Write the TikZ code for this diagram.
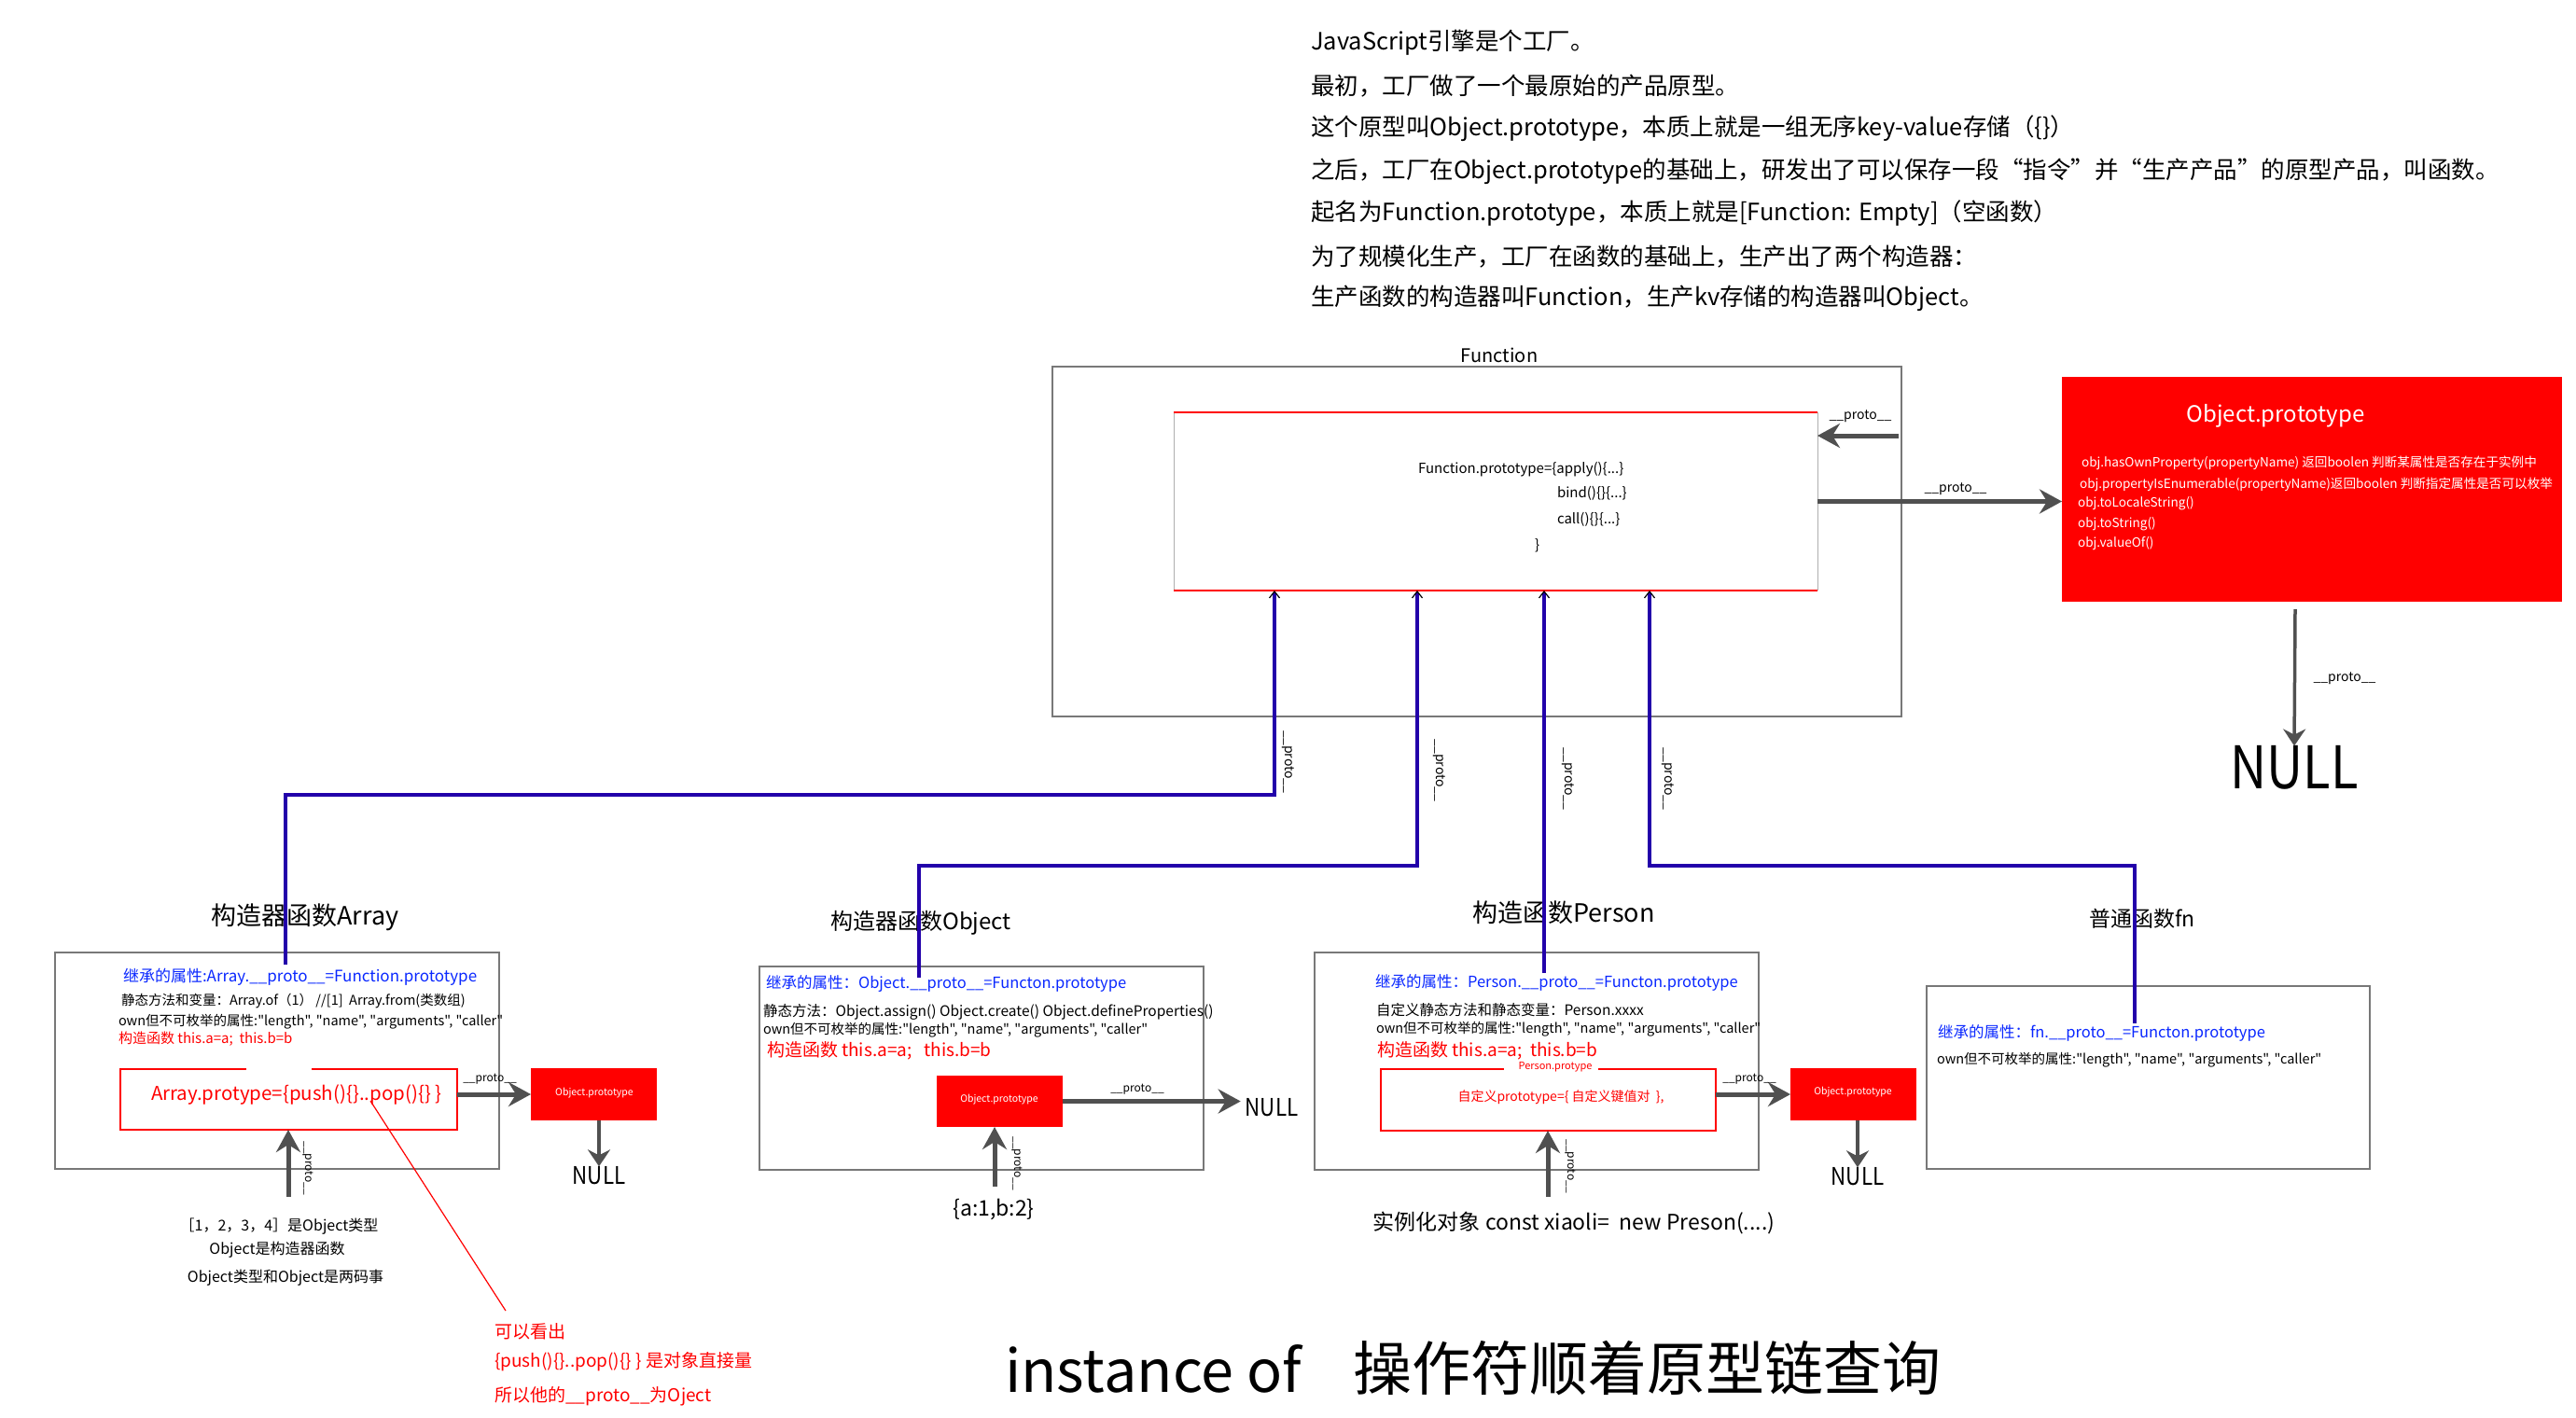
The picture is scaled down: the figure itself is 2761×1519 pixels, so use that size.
\documentclass[tikz,border=0pt]{standalone}
\usepackage{fontspec}
\setmainfont{Noto Sans CJK SC}[Ligatures=TeXOff]
\usetikzlibrary{arrows.meta}
\definecolor{agray}{RGB}{80,80,80}
\definecolor{bgray}{RGB}{120,120,120}
\definecolor{dblue}{RGB}{34,0,170}
\definecolor{tblue}{RGB}{10,40,255}
\newcommand{\myfs}[1]{\fontsize{#1pt}{#1pt}\selectfont}
\begin{document}
\begin{tikzpicture}[x=1pt,y=-1pt,
  every node/.style={inner sep=0pt,outer sep=0pt},
  txt/.style={anchor=west,text=black},
  btxt/.style={anchor=west,text=tblue},
  rtxt/.style={anchor=west,text=red},
  wtxt/.style={anchor=west,text=white},
  gbox/.style={draw=bgray,line width=2pt},
  redfill/.style={fill=red,draw=none},
  garrow/.style={draw=agray,line width=5pt,-{Stealth[length=24pt,width=26pt,inset=8pt]}},
  garrowthin/.style={draw=agray,line width=3.5pt,-{Stealth[length=18pt,width=24pt,inset=6pt]}},
  bconn/.style={draw=dblue,line width=3.5pt,-{Straight Barb[color=black,length=7pt,width=11pt,line width=1.2pt]}},
  plab/.style={font=\myfs{14}},
  plabs/.style={font=\myfs{12}},
  nulltxt/.style={xscale=0.86}
]
\useasboundingbox[fill=white] (0,0) rectangle (2761,1519);

% ---------------- top explanation text ----------------
\begin{scope}[every node/.append style={txt,font=\myfs{25.5}}]
\node (t1) at (1405,46)  {JavaScript引擎是个工厂。};
\node (t2) at (1405,92)  {最初，工厂做了一个最原始的产品原型。};
\node (t3) at (1405,138) {这个原型叫Object.prototype，本质上就是一组无序key-value存储（\{\}）};
\node (t4) at (1405,184) {之后，工厂在Object.prototype的基础上，研发出了可以保存一段“指令”并“生产产品”的原型产品，叫函数。};
\node (t5) at (1405,229) {起名为Function.prototype，本质上就是[Function: Empty]（空函数）};
\node (t6) at (1405,275) {为了规模化生产，工厂在函数的基础上，生产出了两个构造器：};
\node (t7) at (1405,320) {生产函数的构造器叫Function，生产kv存储的构造器叫Object。};
\end{scope}

% ---------------- Function ----------------
\node[font=\myfs{20}] (fnlabel) at (1607,381) {Function};
\node[gbox,minimum width=910pt,minimum height=375pt] (fnouter) at (1583,580.5) {};
\node[minimum width=690pt,minimum height=191pt] (fninner) at (1603,537.5) {};
\draw[bgray!60,line width=1pt] (fninner.north west) -- (fninner.south west)
  (fninner.north east) -- (fninner.south east);
\draw[red,line width=1.5pt] (fninner.north west) -- (fninner.north east)
  (fninner.south west) -- (fninner.south east);
\begin{scope}[every node/.append style={txt,font=\myfs{15}}]
\node (fp1) at (1520,503) {Function.prototype=\{apply()\{...\}};
\node (fp2) at (1669,529) {bind()\{\}\{...\}};
\node (fp3) at (1669,557) {call()\{\}\{...\}};
\node (fp4) at (1645,585) {\}};
\end{scope}

% ---------------- Object.prototype (big) ----------------
\node[redfill,minimum width=536pt,minimum height=241pt] (objbig) at (2478,524.5) {};
\node[text=white,font=\myfs{24}] (objbigt) at (2439,446) {Object.prototype};
\begin{scope}[every node/.append style={wtxt,font=\myfs{13.6}}]
\node (ob1) at (2231,496) {obj.hasOwnProperty(propertyName) 返回boolen 判断某属性是否存在于实例中};
\node (ob2) at (2229,519) {obj.propertyIsEnumerable(propertyName)返回boolen 判断指定属性是否可以枚举};
\node (ob3) at (2227,540) {obj.toLocaleString()};
\node (ob4) at (2227,562) {obj.toString()};
\node (ob5) at (2227,583) {obj.valueOf()};
\end{scope}
\node[nulltxt,font=\myfs{63}] (nulltop) at (2459,823) {NULL};
\coordinate (pdn) at (2460,653);
\draw[garrowthin] (pdn) -- (nulltop.north);
\node[plab] (lbtop) at (2513,727) {\_\_proto\_\_};

% arrows at Function
\coordinate (pin) at (2035,467);
\draw[garrow] (pin) -- (pin -| fninner.east);
\node[plab] (lbin) at (1994,446) {\_\_proto\_\_};
\draw[garrow] (fninner.east) -- (fninner.east -| objbig.west);
\node[plab] (lbout) at (2096,524) {\_\_proto\_\_};

% ---------------- titles ----------------
\node[font=\myfs{27}] (ttA) at (327,983) {构造器函数Array};
\node[font=\myfs{24}] (ttO) at (987,989) {构造器函数Object};
\node[font=\myfs{27}] (ttP) at (1676,978) {构造函数Person};
\node[font=\myfs{23}] (ttF) at (2296,985) {普通函数fn};

% ---------------- Array ----------------
\node[gbox,minimum width=476pt,minimum height=232pt] (arrbox) at (297,1137) {};
\node[btxt,font=\myfs{17}] (a1) at (132,1047) {继承的属性:Array.\_\_proto\_\_=Function.prototype};
\node[txt,font=\myfs{14.5}] (a2) at (130,1073) {静态方法和变量：Array.of（1） //[1]\ \ Array.from(类数组)};
\node[txt,font=\myfs{14.5}] (a3) at (127,1095) {own但不可枚举的属性:"length", "name", "arguments", "caller"};
\node[rtxt,font=\myfs{15}] (a4) at (127,1114) {构造函数 this.a=a;\ \ this.b=b};
\node[minimum width=361pt,minimum height=65pt] (arrred) at (309.5,1178.5) {};
\draw[red,line width=1.5pt] (334,1146) -- (arrred.north east) -- (arrred.south east)
  -- (arrred.south west) -- (arrred.north west) -- (264,1146);
\node[rtxt,font=\myfs{20.5}] (a5) at (162,1173) {Array.protype=\{push()\{\}..pop()\{\} \}};
\node[redfill,minimum width=135pt,minimum height=56pt] (objA) at (636.5,1173) {};
\node[text=white,font=\myfs{10.5}] (objAt) at (637,1172) {Object.prototype};
\draw[garrow] (objA.west -| arrred.east) -- (objA.west);
\node[plabs] (lbA1) at (525,1157) {\_\_proto\_\_};
\node[nulltxt,font=\myfs{26}] (nullA) at (642,1260) {NULL};
\draw[garrowthin] (objA.south -| nullA.north) -- (nullA.north);
\coordinate (upA) at (309,1283);
\draw[garrow] (upA) -- (upA |- arrred.south);
\node[plabs,rotate=-90] (lbA2) at (330,1252) {\_\_proto\_\_};
\node[font=\myfs{16}] (a6) at (299,1315) {［1，2，3，4］是Object类型};
\node[font=\myfs{16}] (a7) at (297,1340) {Object是构造器函数};
\node[font=\myfs{16}] (a8) at (306,1370) {Object类型和Object是两码事};
\coordinate (rl1) at (397,1180);
\coordinate (rl2) at (542,1405);
\draw[red,line width=1.2pt] (rl1) -- (rl2);
\node[rtxt,font=\myfs{19}] (r1) at (530,1427) {可以看出};
\node[rtxt,font=\myfs{19}] (r2) at (530,1460) {\{push()\{\}..pop()\{\}\ \} 是对象直接量};
\node[rtxt,font=\myfs{19}] (r3) at (530,1497) {所以他的\_\_proto\_\_为Oject};

% ---------------- Object ----------------
\node[gbox,minimum width=476pt,minimum height=218pt] (objbox) at (1052,1145) {};
\node[btxt,font=\myfs{16.5}] (o1) at (821,1055) {继承的属性：Object.\_\_proto\_\_=Functon.prototype};
\node[txt,font=\myfs{15.5}] (o2) at (818,1085) {静态方法：Object.assign() Object.create() Object.defineProperties()};
\node[txt,font=\myfs{14.5}] (o3) at (818,1104) {own但不可枚举的属性:"length", "name", "arguments", "caller"};
\node[rtxt,font=\myfs{19}] (o4) at (822,1126) {构造函数 this.a=a;\ \ \ this.b=b};
\node[redfill,minimum width=135pt,minimum height=55pt] (objO) at (1071.5,1180.5) {};
\node[text=white,font=\myfs{10.5}] (objOt) at (1071,1179) {Object.prototype};
\node[nulltxt,font=\myfs{26}] (nullO) at (1363,1187) {NULL};
\draw[garrow] (objO.east) -- ([xshift=-5pt]nullO.west |- objO.east);
\node[plabs] (lbO1) at (1219,1168) {\_\_proto\_\_};
\coordinate (upO) at (1066,1272);
\draw[garrow] (upO) -- (upO |- objO.south);
\node[plabs,rotate=-90] (lbO2) at (1090,1247) {\_\_proto\_\_};
\node[font=\myfs{23}] (o5) at (1065,1297) {\{a:1,b:2\}};

% ---------------- Person ----------------
\node[gbox,minimum width=476pt,minimum height=233pt] (perbox) at (1647,1137.5) {};
\node[btxt,font=\myfs{16.5}] (p1) at (1474,1053) {继承的属性：Person.\_\_proto\_\_=Functon.prototype};
\node[txt,font=\myfs{15.5}] (p2) at (1475,1083) {自定义静态方法和静态变量：Person.xxxx};
\node[txt,font=\myfs{14.5}] (p3) at (1475,1103) {own但不可枚举的属性:"length", "name", "arguments", "caller"};
\node[rtxt,font=\myfs{19}] (p4) at (1476,1126) {构造函数 this.a=a;\ \ this.b=b};
\node[minimum width=359pt,minimum height=66pt] (perred) at (1659.5,1179) {};
\draw[red,line width=1.5pt] (1713,1146) -- (perred.north east) -- (perred.south east)
  -- (perred.south west) -- (perred.north west) -- (1612,1146);
\node[text=red,font=\myfs{11}] (p5) at (1667,1144) {Person.protype};
\node[text=red,font=\myfs{14}] (p6) at (1673,1176) {自定义prototype=\{ 自定义键值对\ \ \},};
\node[redfill,minimum width=135pt,minimum height=56pt] (objP) at (1986.5,1173) {};
\node[text=white,font=\myfs{10.5}] (objPt) at (1986,1171) {Object.prototype};
\draw[garrow] (objP.west -| perred.east) -- (objP.west);
\node[plabs] (lbP1) at (1875,1157) {\_\_proto\_\_};
\node[nulltxt,font=\myfs{26}] (nullP) at (1991,1261) {NULL};
\draw[garrowthin] (objP.south -| nullP.north) -- (nullP.north);
\coordinate (upP) at (1659,1283);
\draw[garrow] (upP) -- (upP |- perred.south);
\node[plabs,rotate=-90] (lbP2) at (1683,1250) {\_\_proto\_\_};
\node[font=\myfs{23}] (p7) at (1687,1311) {实例化对象 const xiaoli=\ \ new Preson(....)};

% ---------------- fn ----------------
\node[gbox,minimum width=475pt,minimum height=196pt] (fnbox) at (2302.5,1155) {};
\node[btxt,font=\myfs{16.5}] (f1) at (2077,1107) {继承的属性：fn.\_\_proto\_\_=Functon.prototype};
\node[txt,font=\myfs{14.5}] (f2) at (2076,1136) {own但不可枚举的属性:"length", "name", "arguments", "caller"};

% ---------------- blue __proto__ connectors ----------------
\coordinate (sA) at (306,1034);
\coordinate (sO) at (985,1048);
\coordinate (sP) at (1655,1043);
\coordinate (sF) at (2288,1097);
\draw[bconn] (sA) |- (1366,852) -- (fninner.south -| 1366,0);
\draw[bconn] (sO) |- (1519,928) -- (fninner.south -| 1519,0);
\draw[bconn] (sP) -- (fninner.south -| sP);
\draw[bconn] (sF) |- (1768,928) -- (fninner.south -| 1768,0);
\node[plab,rotate=-90] (lb1) at (1381,817) {\_\_proto\_\_};
\node[plab,rotate=-90] (lb2) at (1543,826) {\_\_proto\_\_};
\node[plab,rotate=-90] (lb3) at (1681,835) {\_\_proto\_\_};
\node[plab,rotate=-90] (lb4) at (1788,835) {\_\_proto\_\_};

% ---------------- bottom title ----------------
\node[txt,font=\myfs{63}] (bt1) at (1077,1467) {instance of};
\node[txt,font=\myfs{63}] (bt2) at (1450,1467) {操作符顺着原型链查询};
\end{tikzpicture}
\end{document}
